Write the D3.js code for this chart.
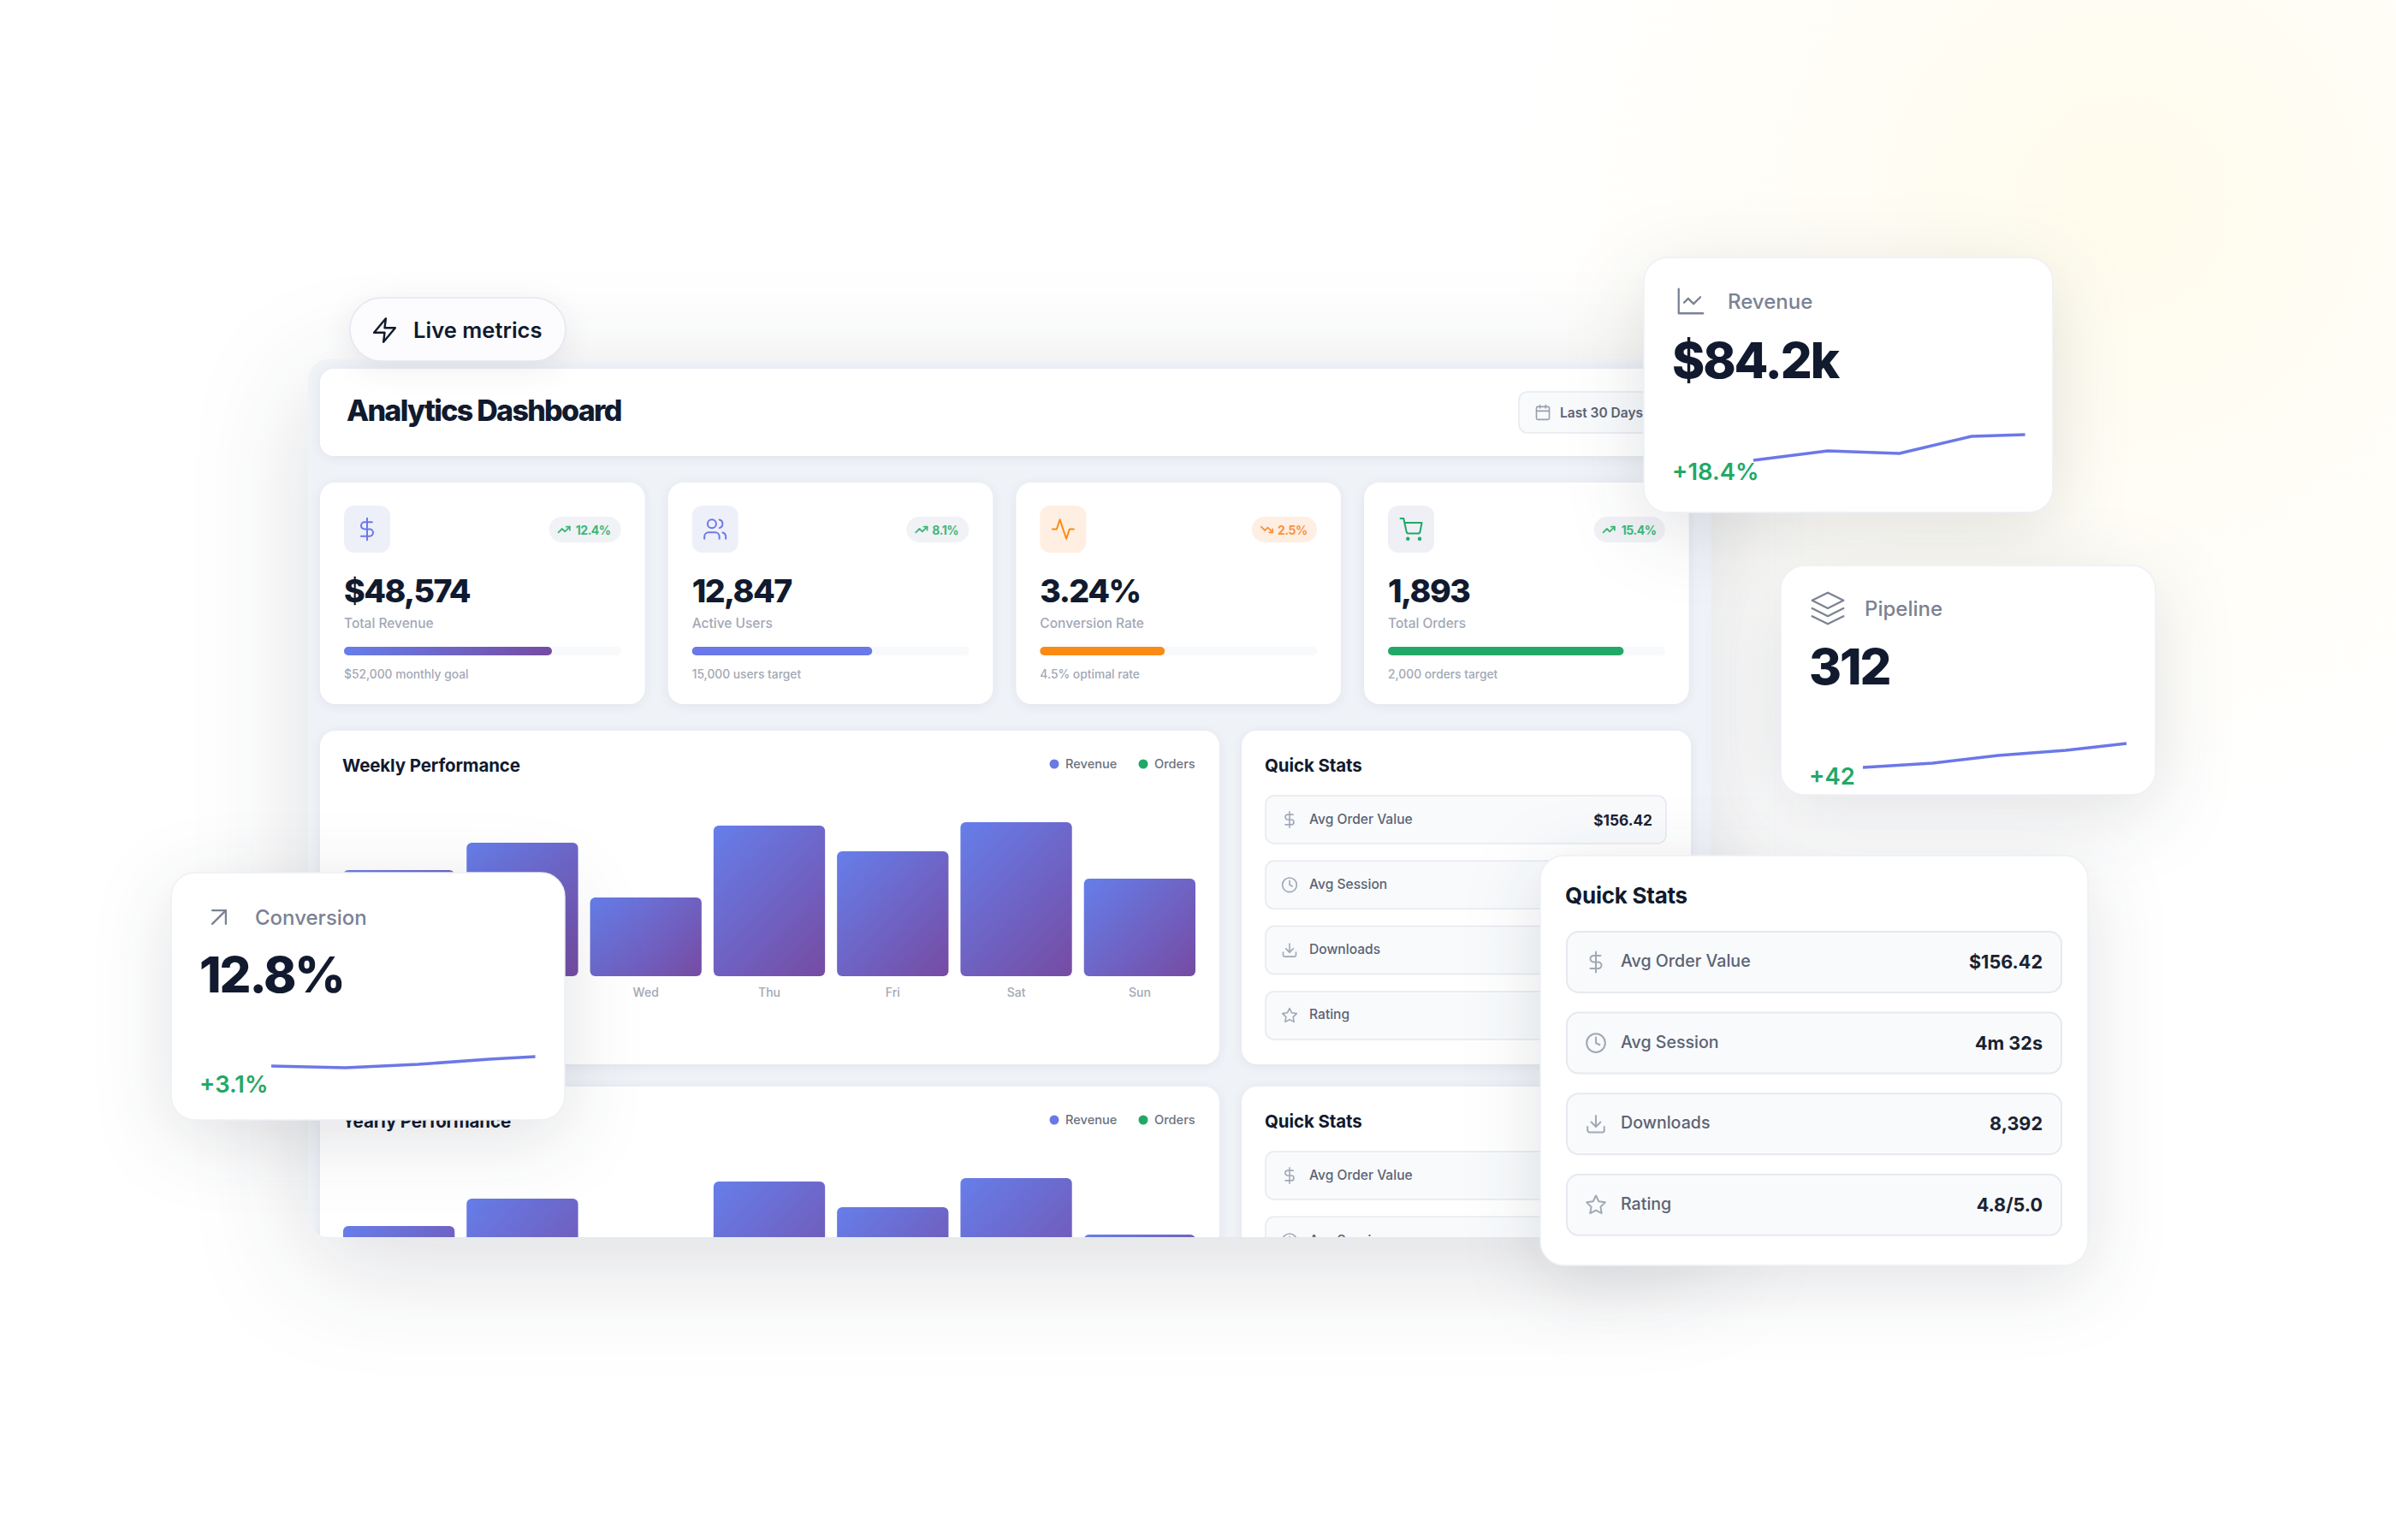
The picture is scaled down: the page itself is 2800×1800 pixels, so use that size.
<!DOCTYPE html>
<html><head><meta charset="utf-8">
<script src="https://cdn.jsdelivr.net/npm/d3@7"></script>
<style>
html,body{margin:0;padding:0;background:#fff}
svg{display:block}
text{font-family:Inter,"Noto Sans",sans-serif}
</style></head><body><svg id="c" width="2800" height="1800" viewBox="0 0 2800 1800"></svg>
<script>
// ---------- data ----------
const days = ["Mon","Tue","Wed","Thu","Fri","Sat","Sun"];
const barValues = [62,78,46,88,73,90,57];
const chartTitles = ["Weekly Performance","Yearly Performance"];
const legendNames = ["Revenue","Orders"];
const kpiValues = ["$48,574","12,847","3.24%","1,893"];
const kpiLabels = ["Total Revenue","Active Users","Conversion Rate","Total Orders"];
const kpiChanges = ["12.4%","8.1%","2.5%","15.4%"];
const kpiGoals = ["$52,000 monthly goal","15,000 users target","4.5% optimal rate","2,000 orders target"];
const kpiProgress = [75,65,45,85];
const statLabels = ["Avg Order Value","Avg Session","Downloads","Rating"];
const statValues = ["$156.42","4m 32s","8,392","4.8/5.0"];
const sparkRevenue = [30,41,38,58,60];
const sparkRevenueT = [0,1,1.96,2.93,3.65];
const sparkPipeline = [30,35,44,50,58];
const sparkPipelineT = [0,1.03,2,3,3.9];
const sparkConversion = [32,30,34,40,43];
const sparkConversionT = [0,1.02,2.02,3,3.63];

// ---------- palette ----------
const C = {ink:"#111a2e", gray:"#7b8294", soft:"#a2a8b5", panel:"#eff2f7", blue:"#6b78e8", green:"#22a866", orange:"#fb8a14"};

const ICONS = {
 zap:["M13 2 3 14h9l-1 8 10-12h-9l1-8z"],
 dollar:["M12 1v22","M17 5H9.5a3.5 3.5 0 0 0 0 7h5a3.5 3.5 0 0 1 0 7H6"],
 users:["M16 21v-2a4 4 0 0 0-4-4H6a4 4 0 0 0-4 4v2","M5 7a4 4 0 1 0 8 0a4 4 0 1 0-8 0","M22 21v-2a4 4 0 0 0-3-3.87","M16 3.13a4 4 0 0 1 0 7.75"],
 activity:["M22 12h-4l-3 9L9 3l-3 9H2"],
 cart:["M8 21a1 1 0 1 0 2 0a1 1 0 1 0-2 0","M19 21a1 1 0 1 0 2 0a1 1 0 1 0-2 0","M2 2h3l2.68 12.39a2 2 0 0 0 2 1.61h8.72a2 2 0 0 0 2-1.61L22 6H6"],
 up:["M22 7 13.5 15.5 8.5 10.5 2 17","M16 7h6v6"],
 down:["M22 17 13.5 8.5 8.5 13.5 2 7","M16 17h6v-6"],
 calendar:["M5 4h14a2 2 0 0 1 2 2v14a2 2 0 0 1-2 2H5a2 2 0 0 1-2-2V6a2 2 0 0 1 2-2z","M16 2v4","M8 2v4","M3 10h18"],
 chart:["M3 3v18h18","M19 9l-5 5-4-4-3 3"],
 layers:["M12 2 2 7l10 5 10-5-10-5z","M2 17l10 5 10-5","M2 12l10 5 10-5"],
 arrow:["M7 17 17 7","M7 7h10v10"],
 clock:["M2 12a10 10 0 1 0 20 0a10 10 0 1 0-20 0","M12 6v6l4 2"],
 download:["M21 15v4a2 2 0 0 1-2 2H5a2 2 0 0 1-2-2v-4","M7 10l5 5 5-5","M12 15V3"],
 star:["M12 2l3.09 6.26L22 9.27l-5 4.87 1.18 6.88L12 17.77l-6.18 3.25L7 14.14 2 9.27l6.91-1.01L12 2z"]
};
const kpiIcons = ["dollar","users","activity","cart"];
const statIcons = ["dollar","clock","download","star"];

const svg = d3.select("#c");
const defs = svg.append("defs");

// background glow
const glow = defs.append("radialGradient").attr("id","glow");
glow.append("stop").attr("offset","0%").attr("stop-color","#fffbe8").attr("stop-opacity",.8);
glow.append("stop").attr("offset","100%").attr("stop-color","#fffbe8").attr("stop-opacity",0);
svg.append("rect").attr("width",2800).attr("height",1800).attr("fill","#fff");
svg.append("circle").attr("cx",2480).attr("cy",240).attr("r",720).attr("fill","url(#glow)");

const pg = defs.append("linearGradient").attr("id","pgrad");
pg.append("stop").attr("offset","0%").attr("stop-color","#667eea");
pg.append("stop").attr("offset","100%").attr("stop-color","#764ba2");

defs.append("clipPath").attr("id","winClip").append("rect")
  .attr("x",360).attr("y",420).attr("width",1640).attr("height",1026).attr("rx",24);

// ---------- helpers ----------
function txt(g,x,y,s,o={}){
  return g.append("text").attr("x",x).attr("y",y).text(s)
    .attr("font-size",o.size||14).attr("font-weight",o.weight||500).attr("fill",o.fill||C.ink)
    .attr("text-anchor",o.anchor||"start").attr("letter-spacing",o.ls||0)
    .attr("dominant-baseline",o.base||"central");
}
function icon(g,name,cx,cy,size,stroke,sw){
  const k=size/24;
  const i=g.append("g").attr("transform",`translate(${cx-size/2},${cy-size/2}) scale(${k})`)
    .attr("fill","none").attr("stroke",stroke).attr("stroke-width",sw/k)
    .attr("stroke-linecap","round").attr("stroke-linejoin","round");
  ICONS[name].forEach(d=>i.append("path").attr("d",d));
}
function box(g,x,y,w,h,r,fill,o={}){
  const b=g.append("rect").attr("x",x).attr("y",y).attr("width",w).attr("height",h).attr("rx",r).attr("fill",fill);
  if(o.stroke) b.attr("stroke",o.stroke).attr("stroke-width",o.sw||1.5);
  if(o.shadow) b.style("filter",o.shadow);
  return b;
}
const cardShadow="drop-shadow(0 2px 6px rgba(30,41,70,.07))";
const floatShadow="drop-shadow(0 20px 44px rgba(20,28,50,.13))";

// ---------- dashboard window ----------
box(svg,360,420,1640,1026,24,C.panel,{shadow:"drop-shadow(0 30px 66px rgba(20,28,50,.15))"});
const win = svg.append("g").attr("clip-path","url(#winClip)");

// header
box(win,374,431,1602,102,16,"#fff",{shadow:cardShadow});
txt(win,405,479,"Analytics Dashboard",{size:34,weight:800,ls:-1.7});
box(win,1775,458,175,48,10,"#f8fafc",{stroke:"#e6e9f0"});
icon(win,"calendar",1803,482,20,"#9aa0ae",1.6);
txt(win,1823,482,"Last 30 Days",{size:15.5,weight:600,fill:"#5b6375"});

// KPI cards
const cardX = d3.scaleBand().domain(d3.range(4)).range([374,1973.7]).paddingInner(27/406.67);
const progress = d3.scaleLinear().domain([0,100]).range([0,324]);
const kpiTint = ["#edf0f8","#edf0f8","#ffeee2","#eef0f6"];
const kpiInk = [C.blue,C.blue,C.orange,C.green];
const kpiBar = ["url(#pgrad)","#6b78e8",C.orange,C.green];
kpiValues.forEach((v,i)=>{
  const x=cardX(i), g=win.append("g").attr("transform",`translate(${x},0)`);
  const w=cardX.bandwidth();
  box(g,0,564,w,259,18,"#fff",{shadow:cardShadow});
  box(g,28,591,54,55,12,kpiTint[i]);
  icon(g,kpiIcons[i],55,618.5,i==0?28:30,kpiInk[i],2);
  const bw=[84,73,76,83][i], bx=w-28-bw;
  box(g,bx,604,bw,30,15,i==2?"#ffeee2":"#f0f2f6");
  icon(g,i==2?"down":"up",bx+17.5,619,16,i==2?"#fb923c":"#3cb878",1.8);
  txt(g,bx+[31,30,30,32][i],619,kpiChanges[i],{size:14,weight:700,fill:i==2?"#fb923c":"#3cb878",ls:-0.45});
  txt(g,28,704,v,{size:37.5,weight:800,ls:-1.55,base:"auto"});
  txt(g,28,728,kpiLabels[i],{size:15.5,weight:500,fill:C.soft});
  box(g,28,756,324,10,5,"#f8f9fb");
  box(g,28,756,progress(kpiProgress[i]),10,5,kpiBar[i]);
  txt(g,28,788,kpiGoals[i],{size:13.8,weight:500,fill:C.soft});
});

// chart panels (two rows)
const xBand = d3.scaleBand().domain(days).range([401,1397]).paddingInner(0.097);
const yBar = d3.scaleLinear().domain([0,100]).range([1141,941]);
let gid=0;
function barFill(x,y,w,h){
  // CSS-like 135deg gradient
  const L=(w+h)*Math.SQRT1_2, cx=x+w/2, cy=y+h/2, d=L/2*Math.SQRT1_2, id="bar"+(gid++);
  const lg=defs.append("linearGradient").attr("id",id).attr("gradientUnits","userSpaceOnUse")
    .attr("x1",cx-d).attr("y1",cy-d).attr("x2",cx+d).attr("y2",cy+d);
  lg.append("stop").attr("offset","0%").attr("stop-color","#667eea");
  lg.append("stop").attr("offset","100%").attr("stop-color","#764ba2");
  return `url(#${id})`;
}
chartTitles.forEach((title,row)=>{
  const g=win.append("g").attr("transform",`translate(0,${row*416})`);
  box(g,374,854,1051,390,18,"#fff",{shadow:cardShadow});
  txt(g,400,894,title,{size:20.5,weight:700,ls:-0.12});
  g.append("circle").attr("cx",1232).attr("cy",893).attr("r",5.5).attr("fill",C.blue);
  txt(g,1245,893,legendNames[0],{size:14.6,weight:500,fill:"#6b7280"});
  g.append("circle").attr("cx",1336).attr("cy",893).attr("r",5.5).attr("fill",C.green);
  txt(g,1349,893,legendNames[1],{size:14.6,weight:500,fill:"#6b7280"});
  g.selectAll("rect.bar").data(barValues).join("rect").attr("class","bar")
    .attr("x",(d,i)=>xBand(days[i])).attr("y",d=>yBar(d))
    .attr("width",xBand.bandwidth()).attr("height",d=>yBar(0)-yBar(d)).attr("rx",6)
    .attr("fill",(d,i)=>barFill(xBand(days[i]),yBar(d),xBand.bandwidth(),yBar(0)-yBar(d)));
  const ax=g.append("g").attr("transform",`translate(0,${yBar(0)})`)
    .call(d3.axisBottom(xBand).tickSize(0).tickPadding(14));
  ax.select(".domain").remove();
  ax.selectAll("text").attr("font-size",14).attr("font-weight",500).attr("fill",C.soft).attr("font-family","Inter,sans-serif");

  // quick stats panel
  box(g,1451,854,525,390,18,"#fff",{shadow:cardShadow});
  txt(g,1478,894,"Quick Stats",{size:20.5,weight:700,ls:-0.1});
  statLabels.forEach((s,i)=>{
    const y=930+i*76.3;
    box(g,1479,y,468,56,10,"#f8fafc",{stroke:"#e6e9f0"});
    icon(g,statIcons[i],1507,y+28,20,"#a2a8b5",1.6);
    txt(g,1530,y+27,s,{size:15.6,weight:500,fill:"#5b6375"});
    txt(g,1931,y+28,statValues[i],{size:17.3,weight:700,anchor:"end",fill:"#1a2233"});
  });
});

// ---------- pill ----------
box(svg,409,348,252,74,37,"#fcfcfe",{stroke:"#e4e6f2",shadow:"drop-shadow(0 8px 16px rgba(20,28,50,.08))"});
icon(svg,"zap",449.5,386,33,C.ink,2.4);
txt(svg,483,385,"Live metrics",{size:25.6,weight:600});

// ---------- floating metric cards ----------
function floatCard(o){
  box(svg,o.x,o.y,o.w,o.h,28,"#fff",{stroke:"#eef0f5",shadow:floatShadow});
  icon(svg,o.icon,o.ix,o.iy,o.is,C.gray,2.3);
  txt(svg,o.tx,o.ly,o.label,{size:24,weight:500,fill:C.gray});
  txt(svg,o.vx,o.vy,o.value,{size:58,weight:800,ls:-2.1,base:"auto"});
  txt(svg,o.vx,o.cy,o.change,{size:27.4,weight:600,fill:C.green,base:"auto"});
  const x=d3.scaleLinear().domain([0,1]).range([o.sx,o.sx+o.step]);
  const y=d3.scaleLinear().domain([0,100]).range([o.sy,o.sy-100]);
  const line=d3.line().x(d=>x(d[0])).y(d=>y(d[1]));
  svg.append("path").attr("d",line(d3.zip(o.t,o.v))).attr("fill","none")
    .attr("stroke",C.blue).attr("stroke-width",3.6).attr("stroke-linejoin","round");
}
floatCard({x:1921,y:301,w:478,h:298,icon:"chart",ix:1976,iy:352,is:38,tx:2019,ly:352,label:"Revenue",vx:1954,vy:442,value:"$84.2k",cy:561,change:"+18.4%",sx:2049,sy:568,step:87,t:sparkRevenueT,v:sparkRevenue});
floatCard({x:2081,y:661,w:438,h:268,icon:"layers",ix:2136,iy:711,is:44,tx:2179,ly:711,label:"Pipeline",vx:2114,vy:800,value:"312",cy:917,change:"+42",sx:2177,sy:927,step:79,t:sparkPipelineT,v:sparkPipeline});
floatCard({x:200,y:1020,w:460,h:289,icon:"arrow",ix:256,iy:1072,is:38,tx:298,ly:1072,label:"Conversion",vx:233,vy:1160,value:"12.8%",cy:1277,change:"+3.1%",sx:317,sy:1278,step:85,t:sparkConversionT,v:sparkConversion});

// ---------- floating quick stats ----------
box(svg,1800,1000,640,479,28,"#fff",{stroke:"#eef0f5",shadow:floatShadow});
txt(svg,1829,1046,"Quick Stats",{size:26,weight:700,ls:-0.25});
statLabels.forEach((s,i)=>{
  const y=1089+i*94.6;
  box(svg,1831,y,578,71,14,"#f8fafc",{stroke:"#e6e9f0",sw:2});
  icon(svg,statIcons[i],1865,y+35.5,26,"#a2a8b5",2);
  txt(svg,1894,y+34,s,{size:19.6,weight:500,fill:"#5b6375"});
  txt(svg,2387,y+35,statValues[i],{size:21.6,weight:700,anchor:"end",fill:"#1a2233"});
});
</script></body></html>
